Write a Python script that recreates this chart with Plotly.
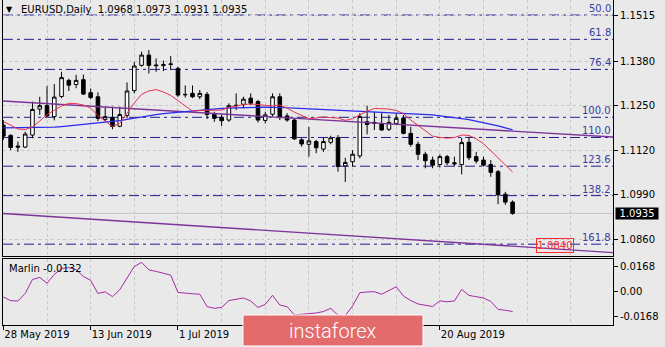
import plotly.graph_objects as go
import pandas as pd

# ---- EURUSD daily bars (28 May 2019 - 3 Sep 2019) ----
DATES = pd.bdate_range("2019-05-28", periods=71)

OPEN = [1.1193, 1.1163, 1.1132, 1.1129, 1.1164, 1.1240, 1.1250, 1.1218, 1.1277, 1.1324,
        1.1312, 1.1326, 1.1288, 1.1276, 1.1210, 1.1215, 1.1190, 1.1221, 1.1294, 1.1368,
        1.1398, 1.1369, 1.1367, 1.1372, 1.1359, 1.1283, 1.1286, 1.1276, 1.1283, 1.1225,
        1.1216, 1.1208, 1.1250, 1.1254, 1.1272, 1.1262, 1.1207, 1.1225, 1.1276, 1.1220,
        1.1208, 1.1150, 1.1137, 1.1145, 1.1123, 1.1143, 1.1156, 1.1074, 1.1086, 1.1103,
        1.1203, 1.1198, 1.1198, 1.1181, 1.1198, 1.1213, 1.1169, 1.1137, 1.1108, 1.1091,
        1.1078, 1.1101, 1.1083, 1.1078, 1.1143, 1.1101, 1.1091, 1.1078, 1.1057, 1.0991,
        1.0968]
HIGH = [1.1208, 1.1167, 1.1145, 1.1174, 1.1262, 1.1276, 1.1307, 1.1313, 1.1349, 1.1329,
        1.1340, 1.1341, 1.1300, 1.1289, 1.1247, 1.1247, 1.1247, 1.1318, 1.1378, 1.1408,
        1.1413, 1.1388, 1.1382, 1.1395, 1.1364, 1.1309, 1.1309, 1.1296, 1.1290, 1.1232,
        1.1223, 1.1257, 1.1286, 1.1276, 1.1286, 1.1267, 1.1232, 1.1286, 1.1286, 1.1228,
        1.1213, 1.1155, 1.1188, 1.1150, 1.1156, 1.1162, 1.1164, 1.1098, 1.1120, 1.1228,
        1.1250, 1.1232, 1.1228, 1.1223, 1.1228, 1.1223, 1.1188, 1.1145, 1.1115, 1.1101,
        1.1108, 1.1106, 1.1101, 1.1156, 1.1159, 1.1115, 1.1101, 1.1091, 1.1062, 1.0998,
        1.0973]
LOW = [1.1150, 1.1120, 1.1115, 1.1126, 1.1155, 1.1223, 1.1217, 1.1207, 1.1272, 1.1293,
       1.1301, 1.1281, 1.1269, 1.1205, 1.1203, 1.1181, 1.1187, 1.1213, 1.1286, 1.1364,
       1.1344, 1.1349, 1.1351, 1.1354, 1.1276, 1.1274, 1.1272, 1.1269, 1.1211, 1.1203,
       1.1191, 1.1203, 1.1237, 1.1242, 1.1252, 1.1201, 1.1198, 1.1218, 1.1208, 1.1203,
       1.1150, 1.1130, 1.1101, 1.1111, 1.1115, 1.1137, 1.1057, 1.1027, 1.1071, 1.1096,
       1.1166, 1.1179, 1.1176, 1.1176, 1.1193, 1.1166, 1.1130, 1.1091, 1.1067, 1.1067,
       1.1069, 1.1076, 1.1072, 1.1049, 1.1091, 1.1081, 1.1072, 1.1042, 1.0962, 1.0960,
       1.0931]
CLOSE = [1.1161, 1.1128, 1.1129, 1.1167, 1.1239, 1.1250, 1.1220, 1.1275, 1.1332, 1.1310,
         1.1324, 1.1284, 1.1274, 1.1213, 1.1218, 1.1189, 1.1224, 1.1293, 1.1366, 1.1398,
         1.1368, 1.1367, 1.1370, 1.1371, 1.1281, 1.1282, 1.1276, 1.1286, 1.1224, 1.1213,
         1.1206, 1.1250, 1.1251, 1.1269, 1.1257, 1.1208, 1.1223, 1.1276, 1.1215, 1.1208,
         1.1153, 1.1138, 1.1147, 1.1127, 1.1145, 1.1156, 1.1072, 1.1084, 1.1108, 1.1218,
         1.1195, 1.1201, 1.1179, 1.1201, 1.1213, 1.1169, 1.1137, 1.1108, 1.1089, 1.1076,
         1.1101, 1.1083, 1.1080, 1.1142, 1.1098, 1.1088, 1.1076, 1.1055, 1.0989, 1.0968,
         1.0935]

# moving averages
MA_FAST = [1.1204, 1.1193, 1.1182, 1.1180, 1.1188, 1.1205, 1.1224, 1.1237, 1.1249, 1.1257,
           1.1256, 1.1252, 1.1243, 1.1221, 1.1204, 1.1189, 1.1198, 1.1229, 1.1258, 1.1283,
           1.1293, 1.1297, 1.1290, 1.1280, 1.1265, 1.1249, 1.1234, 1.1236, 1.1237, 1.1237,
           1.1237, 1.1245, 1.1250, 1.1253, 1.1255, 1.1253, 1.1250, 1.1249, 1.1252, 1.1243,
           1.1231, 1.1221, 1.1212, 1.1214, 1.1217, 1.1215, 1.1214, 1.1207, 1.1212, 1.1223,
           1.1234, 1.1242, 1.1242, 1.1240, 1.1236, 1.1227, 1.1208, 1.1192, 1.1176, 1.1161,
           1.1157, 1.1155, 1.1157, 1.1164, 1.1163, 1.1153, 1.1139, 1.1119, 1.1098, 1.1076,
           1.1056]
MA_SLOW = [1.1185, 1.1185, 1.1186, 1.1186, 1.1186, 1.1186, 1.1186, 1.1187, 1.1189, 1.1191,
           1.1193, 1.1196, 1.1198, 1.1199, 1.1200, 1.1202, 1.1206, 1.1210, 1.1214, 1.1218,
           1.1221, 1.1224, 1.1227, 1.1229, 1.1232, 1.1234, 1.1236, 1.1237, 1.1239, 1.1240,
           1.1242, 1.1243, 1.1243, 1.1244, 1.1245, 1.1245, 1.1246, 1.1246, 1.1245, 1.1244,
           1.1243, 1.1242, 1.1241, 1.1240, 1.1238, 1.1238, 1.1237, 1.1236, 1.1234, 1.1234,
           1.1232, 1.1231, 1.1231, 1.1230, 1.1229, 1.1228, 1.1227, 1.1225, 1.1224, 1.1223,
           1.1220, 1.1218, 1.1215, 1.1212, 1.1209, 1.1205, 1.1201, 1.1196, 1.1191, 1.1185,
           1.1179]

# Marlin oscillator
MARLIN = [-0.0035, -0.0060, -0.0062, -0.0012, 0.0081, 0.0095, 0.0056, 0.0115, 0.0155, 0.0160,
          0.0147, 0.0101, 0.0075, -0.0012, -0.0001, -0.0033, 0.0013, 0.0088, 0.0168, 0.0195,
          0.0145, 0.0135, 0.0123, 0.0110, -0.0005, -0.0011, -0.0014, -0.0017, -0.0099, -0.0111,
          -0.0105, -0.0059, -0.0052, -0.0042, -0.0062, -0.0105, -0.0085, -0.0024, -0.0089, -0.0100,
          -0.0155, -0.0152, -0.0150, -0.0142, -0.0132, -0.0111, -0.0157, -0.0159, -0.0095, -0.0007,
          -0.0002, 0.0000, -0.0017, 0.0008, 0.0033, -0.0029, -0.0059, -0.0082, -0.0092, -0.0099,
          -0.0061, -0.0067, -0.0062, 0.0015, -0.0025, -0.0035, -0.0042, -0.0065, -0.0118, -0.0124,
          -0.0132]

# Fibonacci levels
FIB_LABELS = ["50.0", "61.8", "76.4", "100.0", "110.0", "123.6", "138.2", "161.8"]
FIB_PRICES = [1.1515, 1.1444, 1.1356, 1.1216, 1.1157, 1.1073, 1.0987, 1.0845]

# trend lines (bar position, price)
TREND_UPPER_X = [-0.4, 84.0]
TREND_UPPER_Y = [1.1264, 1.1158]
TREND_LOWER_X = [-0.4, 84.0]
TREND_LOWER_Y = [1.0935, 1.0820]

TARGET_PRICE = 1.0840
TARGET_POS = 75.8

PRICE_TICKS = [1.1515, 1.1380, 1.1250, 1.1120, 1.0990, 1.0860]
MARLIN_TICKS = [0.0168, 0.0, -0.0168]
MARLIN_TICKTEXT = ["0.0168", "0.00", "-0.0168"]
LABEL_EVERY = 12
GRID_EVERY = 6
# date labels that sit under the watermark plate are left blank
COVERED_LABELS = [36, 48]

FONT = "DejaVu Sans"
BG = "#e9e9e9"
GRID = "#c6c6c6"
FIB_COLOR = "#1e1e8f"
FIB_TEXT = "#3c3ca0"
TREND_COLOR = "#7d349a"

pos = list(range(len(CLOSE)))
last_close = CLOSE[-1]

fig = go.Figure()

fig.add_trace(go.Candlestick(
    x=pos, open=OPEN, high=HIGH, low=LOW, close=CLOSE,
    increasing=dict(line=dict(color="black", width=1), fillcolor="white"),
    decreasing=dict(line=dict(color="black", width=1), fillcolor="black"),
    whiskerwidth=0, showlegend=False, xaxis="x", yaxis="y"))

fig.add_trace(go.Scatter(x=TREND_UPPER_X, y=TREND_UPPER_Y, mode="lines",
                         line=dict(color=TREND_COLOR, width=1.4), showlegend=False))
fig.add_trace(go.Scatter(x=TREND_LOWER_X, y=TREND_LOWER_Y, mode="lines",
                         line=dict(color=TREND_COLOR, width=1.4), showlegend=False))
fig.add_trace(go.Scatter(x=pos, y=MA_SLOW, mode="lines",
                         line=dict(color="#2a2aee", width=1.2), showlegend=False))
fig.add_trace(go.Scatter(x=pos, y=MA_FAST, mode="lines",
                         line=dict(color="#e8304e", width=1), showlegend=False))

fig.add_trace(go.Scatter(x=pos, y=MARLIN, mode="lines",
                         line=dict(color="#a52aa5", width=1), showlegend=False,
                         xaxis="x2", yaxis="y2"))

shapes = []
# current price line
shapes.append(dict(type="line", xref="paper", x0=0, x1=1, yref="y",
                   y0=last_close, y1=last_close, layer="below",
                   line=dict(color="#c4c4c4", width=1)))
for p in FIB_PRICES:
    shapes.append(dict(type="line", xref="paper", x0=0, x1=1, yref="y", y0=p, y1=p,
                       layer="below",
                       line=dict(color=FIB_COLOR, width=1, dash="10px,4px,3px,4px")))

# watermark plate
shapes.append(dict(type="rect", xref="paper", yref="paper",
                   x0=0.3934, x1=0.6885, y0=-0.0646, y1=0.0308, layer="above",
                   fillcolor="#e36b6b", line=dict(color="white", width=1)))

annotations = []
for lab, p in zip(FIB_LABELS, FIB_PRICES):
    annotations.append(dict(text=lab, xref="paper", x=1, xanchor="right", xshift=-1,
                            yref="y", y=p, yanchor="bottom", showarrow=False,
                            borderpad=0, font=dict(family=FONT, size=10, color=FIB_TEXT)))

annotations.append(dict(text=f"{last_close:.4f}", xref="paper", x=1, xanchor="left",
                        xshift=2, yref="y", y=last_close, yanchor="middle",
                        showarrow=False, bgcolor="black", width=42, height=11,
                        borderpad=0, font=dict(family=FONT, size=10, color="white")))

annotations.append(dict(text=f"{TARGET_PRICE:.4f}", xref="x", x=TARGET_POS, yref="y",
                        y=TARGET_PRICE, xanchor="center", yanchor="middle",
                        showarrow=False, bordercolor="#ff2a2a", borderwidth=1,
                        borderpad=0, width=36, height=13,
                        font=dict(family=FONT, size=10, color="#ff2a2a")))

annotations.append(dict(text="\u25bc", xref="paper", x=0.002, xanchor="left",
                        yref="paper", y=1, yanchor="top", yshift=-3, showarrow=False,
                        font=dict(family=FONT, size=8, color="black")))
annotations.append(dict(
    text="EURUSD,Daily\u00a0\u00a0" + " ".join(f"{v:.4f}" for v in
                                              (OPEN[-1], HIGH[-1], LOW[-1], CLOSE[-1])),
    xref="paper", x=0.026, xanchor="left", yref="paper", y=1, yanchor="top", yshift=-2,
    showarrow=False, font=dict(family=FONT, size=10, color="black")))

annotations.append(dict(text=f"Marlin {MARLIN[-1]:.4f}", xref="paper", x=0.006,
                        xanchor="left", yref="paper", y=0.2046, yanchor="top",
                        yshift=-2, showarrow=False,
                        font=dict(family=FONT, size=10, color="black")))

annotations.append(dict(text="instaforex", xref="paper", x=0.5405, xanchor="center",
                        yref="paper", y=-0.017, yanchor="middle", showarrow=False,
                        font=dict(family="Roboto", size=20, color="white", weight=300)))

label_pos = list(range(0, len(CLOSE), LABEL_EVERY))
label_txt = ["" if i in COVERED_LABELS else DATES[i].strftime("%-d %b %Y")
             for i in label_pos]

xrange = [-0.05, 83.8]
common_x = dict(range=xrange, showgrid=True, gridcolor=GRID, griddash="dot",
                gridwidth=1, zeroline=False,
                minor=dict(dtick=GRID_EVERY, tick0=0, showgrid=True, gridcolor=GRID,
                           griddash="dot", ticks=""),
                tickmode="array", tickvals=label_pos)

fig.update_layout(
    width=665, height=347,
    margin=dict(l=3, r=52, t=0, b=22),
    paper_bgcolor=BG, plot_bgcolor=BG,
    showlegend=False,
    shapes=shapes, annotations=annotations,
    font=dict(family=FONT, size=10, color="black"),
    xaxis=dict(common_x, anchor="y", showticklabels=False, ticks="",
               showline=True, linecolor="black", linewidth=1, mirror=False,
               rangeslider=dict(visible=False)),
    xaxis2=dict(common_x, anchor="y2", matches="x", ticktext=label_txt,
                ticks="outside", ticklen=4, tickcolor="black",
                ticklabelposition="outside right",
                showline=True, linecolor="black", linewidth=1, mirror=True,
                tickfont=dict(family=FONT, size=10, color="black")),
    yaxis=dict(domain=[0.2108, 1], range=[1.0809, 1.1559], side="right",
               tickmode="array", tickvals=PRICE_TICKS,
               ticktext=[f"{v:.4f}" for v in PRICE_TICKS],
               ticks="outside", ticklen=4, tickcolor="black",
               showgrid=True, gridcolor=GRID, griddash="dot", zeroline=False,
               showline=True, linecolor="black", linewidth=1, mirror=True,
               tickfont=dict(family=FONT, size=10, color="black")),
    yaxis2=dict(domain=[0, 0.2046], range=[-0.0222, 0.0221], side="right",
                tickmode="array", tickvals=MARLIN_TICKS, ticktext=MARLIN_TICKTEXT,
                ticks="outside", ticklen=4, tickcolor="black",
                showgrid=False, zeroline=False,
                showline=True, linecolor="black", linewidth=1, mirror=True,
                tickfont=dict(family=FONT, size=10, color="black")),
)

fig.write_html("out.html")
